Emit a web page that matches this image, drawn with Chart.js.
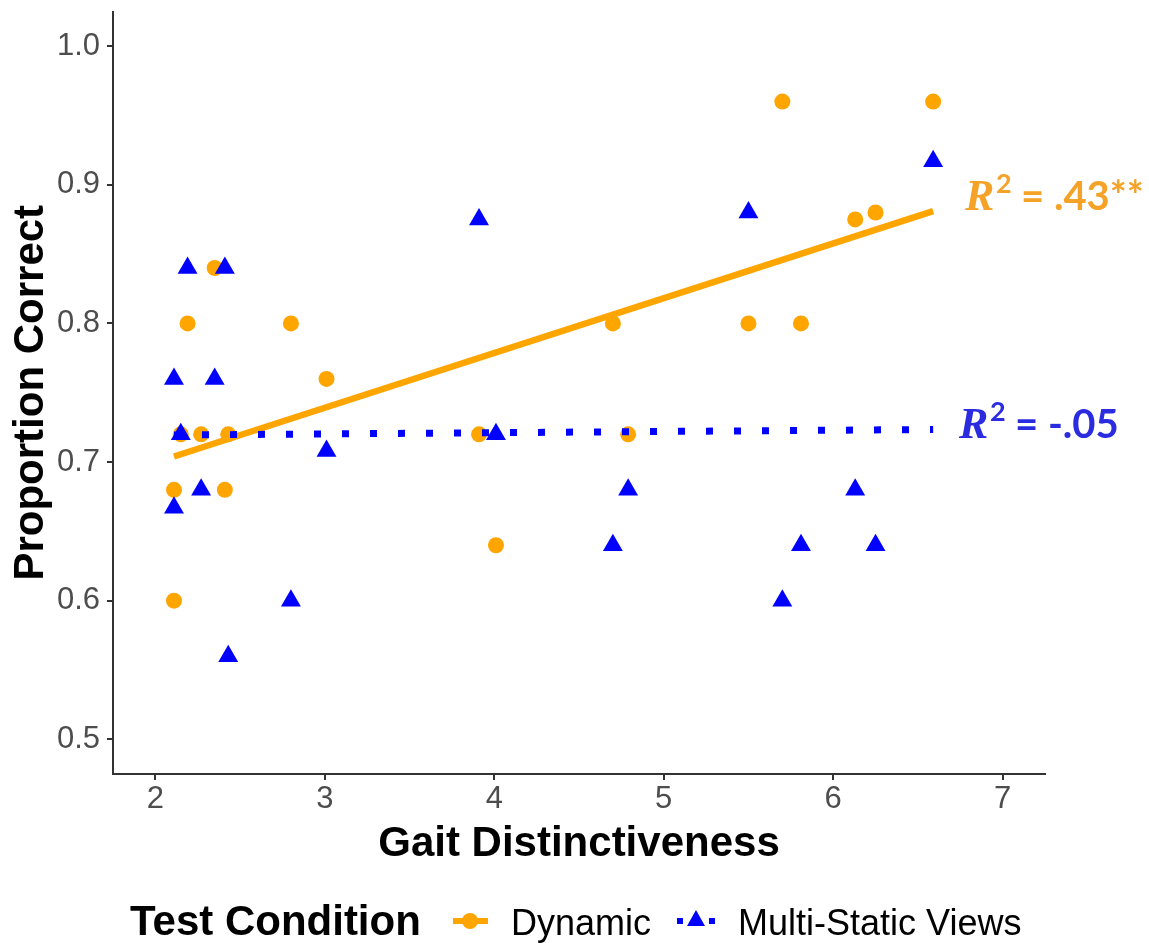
<!DOCTYPE html>
<html>
<head>
<meta charset="utf-8">
<script src="https://cdn.jsdelivr.net/npm/chart.js@4.4.1/dist/chart.umd.min.js"></script>
<style>
  body { margin: 0; background: #fff; }
  canvas { display: block; }
</style>
</head>
<body>
<canvas id="gaitChart" width="1149" height="943"></canvas>
<script>
// gait distinctiveness (x) for each stimulus, same for both conditions
const distinctiveness = [2.11, 2.11, 2.15, 2.19, 2.27, 2.35, 2.41, 2.43, 2.80, 3.01,
                         3.91, 4.01, 4.70, 4.79, 5.50, 5.70, 5.81, 6.13, 6.25, 6.59];
const dynamicCorrect = [0.60, 0.68, 0.72, 0.80, 0.72, 0.84, 0.68, 0.72, 0.80, 0.76,
                        0.72, 0.64, 0.80, 0.72, 0.80, 0.96, 0.80, 0.875, 0.88, 0.96];
const multiStaticCorrect = [0.667, 0.76, 0.72, 0.84, 0.68, 0.76, 0.84, 0.56, 0.60, 0.708,
                            0.875, 0.72, 0.64, 0.68, 0.88, 0.60, 0.64, 0.68, 0.64, 0.917];

// fitted regression lines (end points)
const fitX = [2.11, 6.59];
const dynamicFit = [0.704, 0.881];
const multiStaticFit = [0.7195, 0.7235];

const xTicks = [2, 3, 4, 5, 6, 7];
const yTicks = [0.5, 0.6, 0.7, 0.8, 0.9, 1.0];

const ORANGE = '#FFA500';
const BLUE = '#0000FF';

const toPoints = (xs, ys) => xs.map((x, i) => ({ x: x, y: ys[i] }));

const annotations = {
    id: 'annotations',
    afterDraw(chart) {
        const ctx = chart.ctx;
        ctx.save();
        ctx.textBaseline = 'alphabetic';
        ctx.textAlign = 'left';

        // R^2 labels
        const rsq = (x, y, rest, color) => {
            ctx.fillStyle = color;
            ctx.font = 'bold italic 44px "Liberation Serif"';
            ctx.fillText('R', x, y);
            ctx.font = 'bold 27px Lato';
            ctx.fillText('2', x + 31, y - 17);
            ctx.font = 'bold 40px Lato';
            ctx.fillText(rest, x + 56, y);
        };
        rsq(965, 210, '= .43**', '#F5A328');
        rsq(959, 438, '= -.05', '#2B2BE0');

        // legend
        ctx.fillStyle = '#000';
        ctx.font = 'bold 42px "Liberation Sans"';
        ctx.fillText('Test Condition', 130, 935);

        const ky = 921;
        ctx.strokeStyle = ORANGE;
        ctx.lineWidth = 6;
        ctx.beginPath();
        ctx.moveTo(453, ky);
        ctx.lineTo(488, ky);
        ctx.stroke();
        ctx.fillStyle = ORANGE;
        ctx.beginPath();
        ctx.arc(470, ky, 8, 0, Math.PI * 2);
        ctx.fill();

        ctx.fillStyle = BLUE;
        ctx.fillRect(677, ky - 3, 6, 6);
        ctx.fillRect(709, ky - 3, 6, 6);
        ctx.beginPath();
        ctx.moveTo(696, ky - 11);
        ctx.lineTo(705, ky + 5);
        ctx.lineTo(687, ky + 5);
        ctx.closePath();
        ctx.fill();

        ctx.fillStyle = '#000';
        ctx.font = '36px "Liberation Sans"';
        ctx.fillText('Dynamic', 511, 935);
        ctx.fillText('Multi-Static Views', 738, 935);
        ctx.restore();
    }
};

const ctx = document.getElementById('gaitChart').getContext('2d');

const chart = new Chart(ctx, {
    type: 'scatter',
    data: {
        datasets: [
            {
                label: 'Dynamic',
                data: toPoints(distinctiveness, dynamicCorrect),
                pointStyle: 'circle',
                pointRadius: 8,
                backgroundColor: ORANGE,
                borderWidth: 0,
                order: 4
            },
            {
                label: 'Multi-Static Views',
                data: toPoints(distinctiveness, multiStaticCorrect),
                pointStyle: 'triangle',
                pointRadius: 11.5,
                backgroundColor: BLUE,
                borderWidth: 0,
                order: 3
            },
            {
                type: 'line',
                label: 'Dynamic fit',
                data: toPoints(fitX, dynamicFit),
                borderColor: ORANGE,
                borderWidth: 6.5,
                pointRadius: 0,
                order: 2
            },
            {
                type: 'line',
                label: 'Multi-Static fit',
                data: toPoints(fitX, multiStaticFit),
                borderColor: BLUE,
                borderWidth: 7,
                borderDash: [7, 21],
                borderCapStyle: 'butt',
                pointRadius: 0,
                order: 1
            }
        ]
    },
    options: {
        responsive: false,
        animation: false,
        events: [],
        layout: { padding: { top: 9, right: 104, bottom: 0, left: 0 } },
        plugins: {
            legend: { display: false },
            tooltip: { enabled: false }
        },
        scales: {
            x: {
                type: 'linear',
                min: 1.75,
                max: 7.25,
                afterBuildTicks: axis => { axis.ticks = xTicks.map(v => ({ value: v })); },
                afterFit: axis => {
                    axis.height = 169;
                    axis.paddingLeft = 0;
                    axis.paddingRight = 0;
                },
                grid: { drawOnChartArea: false, tickLength: 6, color: '#333', lineWidth: 2 },
                border: { color: '#333', width: 2 },
                ticks: {
                    font: { family: 'Liberation Sans', size: 31 },
                    color: '#4D4D4D',
                    padding: 1,
                    maxRotation: 0,
                    callback: v => String(v)
                },
                title: {
                    display: true,
                    text: 'Gait Distinctiveness',
                    font: { family: 'Liberation Sans', size: 42, weight: 'bold' },
                    color: '#000',
                    padding: { top: 0, bottom: 73 }
                }
            },
            y: {
                type: 'linear',
                min: 0.475,
                max: 1.025,
                afterBuildTicks: axis => { axis.ticks = yTicks.map(v => ({ value: v })); },
                afterFit: axis => {
                    axis.width = 113;
                    axis.paddingTop = 0;
                    axis.paddingBottom = 0;
                },
                grid: { drawOnChartArea: false, tickLength: 6, color: '#333', lineWidth: 2 },
                border: { color: '#333', width: 2 },
                ticks: {
                    font: { family: 'Liberation Sans', size: 31 },
                    color: '#4D4D4D',
                    padding: 7,
                    callback: v => v.toFixed(1)
                },
                title: {
                    display: true,
                    text: 'Proportion Correct',
                    font: { family: 'Liberation Sans', size: 42, weight: 'bold' },
                    color: '#000',
                    padding: { top: 6, bottom: 0 }
                }
            }
        }
    },
    plugins: [annotations]
});
</script>
</body>
</html>
